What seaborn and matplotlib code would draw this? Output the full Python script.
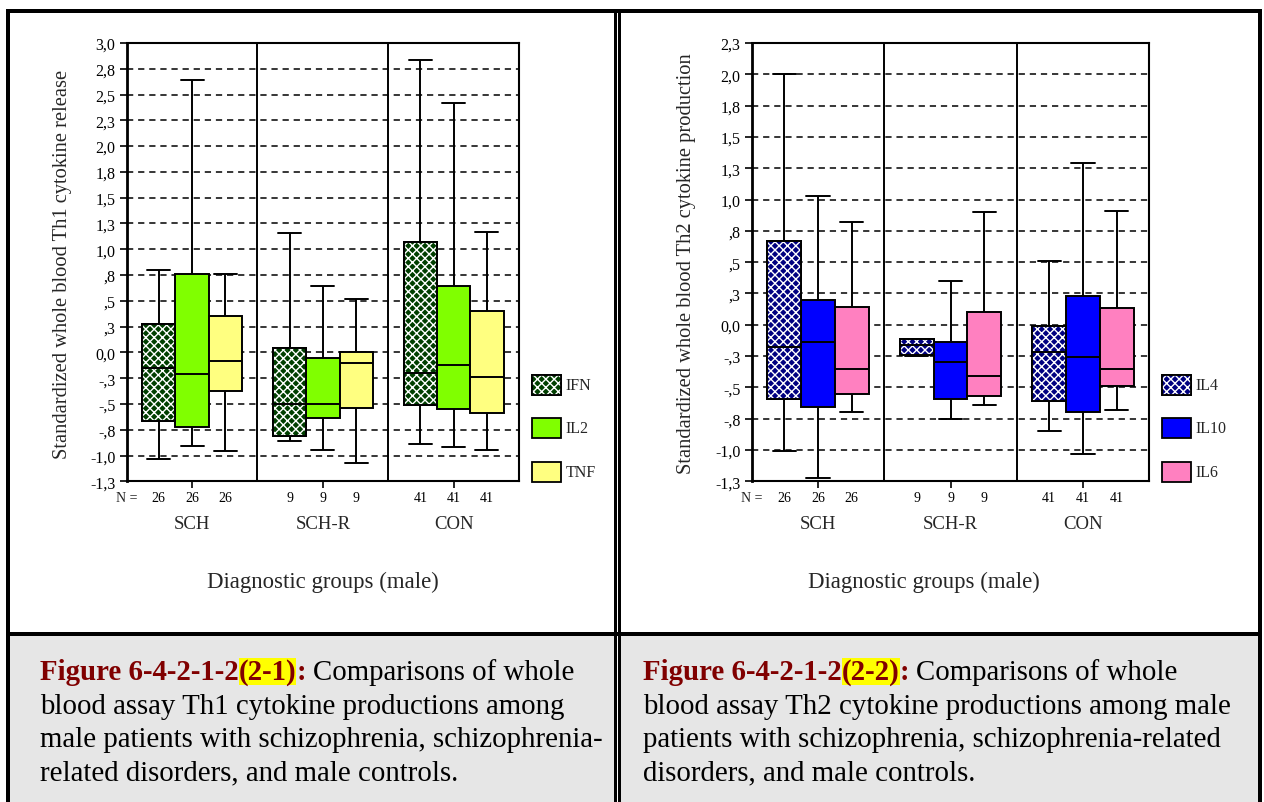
import numpy as np
import pandas as pd
import matplotlib
matplotlib.use("Agg")
import matplotlib.pyplot as plt
import seaborn as sns
from matplotlib.patches import Rectangle, PathPatch

sns.set_theme(style="white")
plt.rcParams['font.family'] = ['Liberation Serif', 'DejaVu Serif']
plt.rcParams['hatch.linewidth'] = 1.0
plt.rcParams['lines.scale_dashes'] = False

# ---- data: [lower whisker, Q1, median, Q3, upper whisker] per group ----
groups = ["SCH", "SCH-R", "CON"]
n_counts = [26, 9, 41]

th1_names = ["IFN", "IL2", "TNF"]
th1_ifn = [[-1.03, -0.67, -0.15, 0.28, 0.80],
           [-0.86, -0.81, -0.50, 0.04, 1.16],
           [-0.89, -0.51, -0.20, 1.07, 2.84]]
th1_il2 = [[-0.91, -0.72, -0.21, 0.76, 2.64],
           [-0.95, -0.64, -0.50, -0.05, 0.64],
           [-0.92, -0.55, -0.12, 0.64, 2.42]]
th1_tnf = [[-0.96, -0.37, -0.08, 0.35, 0.76],
           [-1.07, -0.54, -0.10, 0.00, 0.52],
           [-0.95, -0.59, -0.24, 0.40, 1.17]]
th1_colors = ["#003f00", "#80ff00", "#ffff80"]

th2_names = ["IL4", "IL10", "IL6"]
th2_il4 = [[-1.01, -0.59, -0.18, 0.67, 2.00],
           [-0.25, -0.24, -0.16, -0.11, -0.11],
           [-0.85, -0.61, -0.22, -0.01, 0.51]]
th2_il10 = [[-1.22, -0.66, -0.14, 0.20, 1.03],
            [-0.75, -0.59, -0.30, -0.14, 0.35],
            [-1.03, -0.70, -0.26, 0.23, 1.29]]
th2_il6 = [[-0.70, -0.55, -0.35, 0.14, 0.82],
           [-0.64, -0.57, -0.41, 0.10, 0.90],
           [-0.68, -0.49, -0.35, 0.13, 0.91]]
th2_colors = ["#000080", "#0000ff", "#ff80c0"]

th1_ticks = np.arange(-1.25, 3.01, 0.25)
th1_ticklabels = ["-1,3", "-1,0", "-,8", "-,5", "-,3", "0,0", ",3", ",5", ",8",
                  "1,0", "1,3", "1,5", "1,8", "2,0", "2,3", "2,5", "2,8", "3,0"]
th2_ticks = np.arange(-1.25, 2.26, 0.25)
th2_ticklabels = ["-1,3", "-1,0", "-,8", "-,5", "-,3", "0,0", ",3", ",5", ",8",
                  "1,0", "1,3", "1,5", "1,8", "2,0", "2,3"]

W, H = 1264, 803
fig = plt.figure(figsize=(W / 100, H / 100), dpi=100, facecolor="white")


def fx(x):
    return x / W


def fy(y):
    return 1 - y / H


def rect(x0, y0, x1, y1, **kw):
    r = Rectangle((fx(x0), fy(y1)), fx(x1) - fx(x0), fy(y0) - fy(y1),
                  transform=fig.transFigure, **kw)
    fig.add_artist(r)
    return r


def draw_panel(ax, names, series, colors, ticks, ticklabels):
    df = pd.DataFrame(
        [(g, name, v) for name, stats in zip(names, series)
         for g, vals in zip(groups, stats) for v in vals],
        columns=["group", "cytokine", "value"])

    for t in ticks[1:-1]:
        ax.axhline(t, color="black", lw=1.1, ls=(0, (4.5, 3.5)), zorder=0.5)
    for xv in (0.5, 1.5):
        ax.axvline(xv, color="black", lw=1.4, zorder=0.6)

    sns.boxplot(data=df, x="group", y="value", hue="cytokine", order=groups,
                hue_order=names, palette=colors, saturation=1, whis=(0, 100),
                width=0.765, gap=0, linecolor="black", linewidth=1.4,
                fliersize=0, legend=False, ax=ax)

    conts = [c for c in ax.containers if hasattr(c, "boxes")]
    for k, cont in enumerate(conts):
        for cap in cont.caps:
            c = np.mean(cap.get_xdata())
            cap.set_xdata([c - 0.088, c + 0.088])
        for box in cont.boxes:
            z = box.get_zorder()
            if k == 0:
                ax.add_patch(PathPatch(box.get_path(), transform=box.get_transform(),
                                       facecolor="none", edgecolor="white", lw=0,
                                       hatch="xxxx", zorder=z + 0.01))
                ax.add_patch(PathPatch(box.get_path(), transform=box.get_transform(),
                                       facecolor="none", edgecolor="black", lw=1.4,
                                       zorder=z + 0.02))
        for med in cont.medians:
            med.set_zorder(med.get_zorder() + 0.1)
        # counts under each box
        for box, n in zip(cont.boxes, n_counts):
            ext = box.get_path().get_extents()
            ax.text((ext.x0 + ext.x1) / 2, -0.036, str(n), transform=ax.get_xaxis_transform(),
                    ha="center", va="center", fontsize=10, color="black")

    ax.set_xlim(-0.5, 2.5)
    ax.set_ylim(ticks[0], ticks[-1])
    ax.set_yticks(ticks)
    ax.set_yticklabels(ticklabels)
    ax.set_xticks([0, 1, 2])
    ax.set_xticklabels([])
    ax.set_xlabel("")
    ax.set_ylabel("")
    ax.tick_params(axis="y", left=True, direction="out", length=5, width=1.2,
                   color="black", labelsize=11.5, pad=3, labelcolor="black")
    ax.tick_params(axis="x", bottom=True, direction="out", length=5, width=1.2,
                   color="black")
    for s in ax.spines.values():
        s.set_visible(True)
        s.set_color("black")
        s.set_linewidth(1.5)
    ax.spines["left"].set_linewidth(2)

    ax.text(0, -0.036, "N =", transform=ax.transAxes, ha="center", va="center", fontsize=10)
    for i, g in enumerate(groups):
        ax.text(i, -0.0974, g, transform=ax.get_xaxis_transform(), ha="center",
                va="center", fontsize=13.5)


def draw_legend(x0, names, colors):
    for i, (name, col) in enumerate(zip(names, colors)):
        y0 = [375.7, 419.0, 462.7][i]
        rect(x0, y0, x0 + 29.5, y0 + 20, facecolor=col, edgecolor="black", lw=1.3)
        if i == 0:
            rect(x0, y0, x0 + 29.5, y0 + 20, facecolor="none", edgecolor="white", lw=0, hatch="xxxx")
            rect(x0, y0, x0 + 29.5, y0 + 20, facecolor="none", edgecolor="black", lw=1.3)
        fig.text(fx(x0 + 34), fy(y0 + 10), name, ha="left", va="center", fontsize=11.5)


# ---- frame and caption background ----
rect(10, 637, 614, 803, facecolor="#e6e6e6", edgecolor="none")
rect(620, 637, 1258, 803, facecolor="#e6e6e6", edgecolor="none")
rect(6, 10, 10, 803, facecolor="black", edgecolor="none")
rect(6, 10, 1262, 14, facecolor="black", edgecolor="none")
rect(1258, 10, 1262, 803, facecolor="black", edgecolor="none")
rect(6, 633, 1262, 637, facecolor="black", edgecolor="none")
rect(614, 10, 616.5, 803, facecolor="black", edgecolor="none")
rect(618.3, 10, 620.6, 803, facecolor="black", edgecolor="none")
rect(616.5, 637, 618.3, 803, facecolor="white", edgecolor="none")

# ---- panels ----
ax1 = fig.add_axes([fx(126.7), fy(482.3), (519 - 126.7) / W, (482.3 - 44) / H])
draw_panel(ax1, th1_names, [th1_ifn, th1_il2, th1_tnf], th1_colors, th1_ticks, th1_ticklabels)
ax2 = fig.add_axes([fx(751.7), fy(482.3), (1149.3 - 751.7) / W, (482.3 - 44) / H])
draw_panel(ax2, th2_names, [th2_il4, th2_il10, th2_il6], th2_colors, th2_ticks, th2_ticklabels)

draw_legend(531.7, th1_names, th1_colors)
draw_legend(1161.7, th2_names, th2_colors)

fig.text(fx(63), fy(264), "Standardized whole blood Th1 cytokine release", rotation=90,
         ha="center", va="center", fontsize=14.8)
fig.text(fx(687), fy(264), "Standardized whole blood Th2 cytokine production", rotation=90,
         ha="center", va="center", fontsize=14.8)
fig.text(fx(323), fy(582), "Diagnostic groups (male)", ha="center", va="center", fontsize=16.4)
fig.text(fx(924), fy(582), "Diagnostic groups (male)", ha="center", va="center", fontsize=16.4)

# ---- captions ----
captions = [
    (40, "(2-1)", ["blood assay Th1 cytokine productions among",
                   "male patients with schizophrenia, schizophrenia-",
                   "related disorders, and male controls."]),
    (643, "(2-2)", ["blood assay Th2 cytokine productions among male",
                    "patients with schizophrenia, schizophrenia-related",
                    "disorders, and male controls."]),
]
baselines = [680, 714, 747, 780]
fig.canvas.draw()
renderer = fig.canvas.get_renderer()
for x0, tag, rest in captions:
    x = x0
    runs = [("Figure 6-4-2-1-2", dict(fontweight="bold", color="#800000")),
            (tag, dict(fontweight="bold", color="#800000",
                       bbox=dict(boxstyle="square,pad=0", facecolor="yellow", edgecolor="none"))),
            (":", dict(fontweight="bold", color="#800000"))]
    for s, kw in runs:
        t = fig.text(fx(x), fy(baselines[0]), s, ha="left", va="baseline", fontsize=20.8, **kw)
        x = t.get_window_extent(renderer).x1
    fig.text(fx(x + 7), fy(baselines[0]), "Comparisons of whole", ha="left", va="baseline",
             fontsize=20.8, color="black")
    for line, b in zip(rest, baselines[1:]):
        fig.text(fx(x0), fy(b), line, ha="left", va="baseline", fontsize=20.8, color="black")

fig.savefig("out.png", dpi=100, facecolor="white")
